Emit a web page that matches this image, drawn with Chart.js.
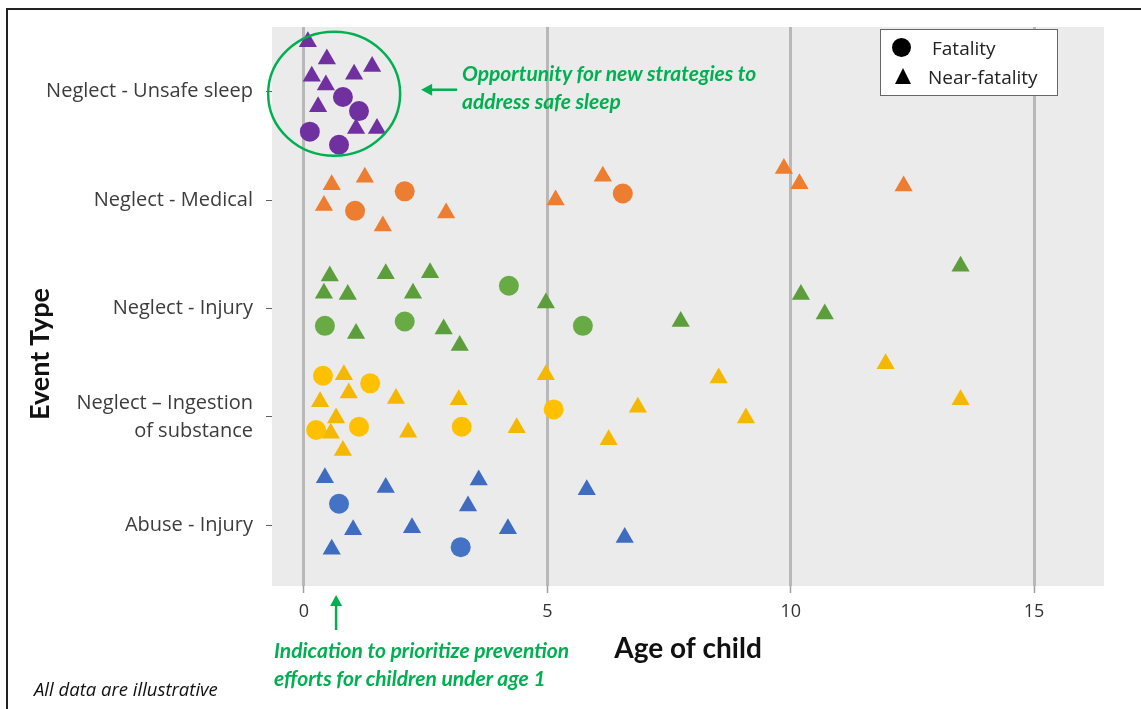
<!DOCTYPE html>
<html>
<head>
<meta charset="utf-8">
<script src="https://cdn.jsdelivr.net/npm/chart.js@4.4.1/dist/chart.umd.min.js"></script>
<style>
  body { margin: 0; background: #fff; }
  #wrap { position: relative; width: 1141px; height: 709px; overflow: hidden; }
  #frame { position: absolute; left: 6px; top: 8px; width: 1200px; height: 800px;
           border-left: 2px solid #222; border-top: 2px solid #222; pointer-events: none; }
  .note { position: absolute; font-family: Lato, sans-serif; font-weight: bold; font-style: italic;
          color: #00b050; font-size: 21px; line-height: 28px; white-space: nowrap; }
  #ytitle { position: absolute; left: 38px; top: 354px; transform: translate(-50%, -50%) rotate(-90deg);
            font-family: Lato, sans-serif; font-weight: bold; font-size: 27px; color: #111; white-space: nowrap; }
  #footnote { position: absolute; left: 34px; top: 676px; font-family: "Open Sans", sans-serif;
              font-style: italic; font-size: 18.5px; color: #111; white-space: nowrap; }
  #legend { position: absolute; left: 880px; top: 29px; width: 176px; height: 65px; background: #fff;
            border: 1px solid #666; font-family: "Open Sans", sans-serif; font-size: 19px; color: #222; }
  #legend .row { position: absolute; left: 0; height: 24px; line-height: 24px; white-space: nowrap; }
  #legend .dot { position: absolute; left: 11px; top: 2px; width: 19px; height: 19px; border-radius: 50%; background: #000; }
  #legend .tri { position: absolute; left: 14px; top: 3px; width: 0; height: 0;
                 border-left: 8px solid transparent; border-right: 8px solid transparent; border-bottom: 16px solid #000; }
</style>
</head>
<body>
<div id="wrap">
  <canvas id="ageChart" width="1141" height="709"></canvas>
  <div id="frame"></div>
  <div id="ytitle">Event Type</div>
  <div id="legend">
    <div class="row" style="top:6px"><span class="dot"></span><span style="position:absolute;left:51px">Fatality</span></div>
    <div class="row" style="top:35px"><span class="tri"></span><span style="position:absolute;left:47px">Near-fatality</span></div>
  </div>
  <div class="note" style="left:462px; top:59px">Opportunity for new strategies to<br>address safe sleep</div>
  <div class="note" style="left:274px; top:636px">Indication to prioritize prevention<br>efforts for children under age 1</div>
  <div id="footnote">All data are illustrative</div>
</div>
<script>
// y axis: 1 = Abuse - Injury ... 5 = Neglect - Unsafe sleep, points are jittered around their row
const eventTypes = ['Abuse - Injury', ['Neglect \u2013 Ingestion', 'of substance'], 'Neglect - Injury', 'Neglect - Medical', 'Neglect - Unsafe sleep'];
const ageTicks = [0, 5, 10, 15];

// [age, row position]
const sleepFatal = [[0.80, 4.95], [1.13, 4.82], [0.12, 4.63], [0.72, 4.51]];
const sleepNear = [[0.08, 5.46], [0.47, 5.30], [0.16, 5.14], [0.45, 5.06], [1.03, 5.16], [1.40, 5.23], [0.29, 4.86], [1.07, 4.66], [1.50, 4.66]];
const medicalFatal = [[2.07, 4.08], [1.05, 3.90], [6.55, 4.06]];
const medicalNear = [[0.57, 4.14], [1.25, 4.21], [0.41, 3.95], [1.62, 3.76], [2.92, 3.88], [5.17, 4.00], [6.14, 4.22], [9.86, 4.29], [10.18, 4.15], [12.32, 4.13]];
const injuryFatal = [[0.43, 2.84], [2.07, 2.88], [4.21, 3.21], [5.73, 2.84]];
const injuryNear = [[0.53, 3.30], [0.41, 3.14], [0.90, 3.13], [1.68, 3.32], [2.59, 3.33], [2.24, 3.14], [4.97, 3.05], [1.07, 2.77], [2.87, 2.81], [3.20, 2.66], [7.74, 2.88], [10.21, 3.13], [10.70, 2.95], [13.49, 3.39]];
const ingestFatal = [[0.39, 2.38], [1.36, 2.31], [0.25, 1.88], [1.13, 1.91], [3.24, 1.91], [5.13, 2.07]];
const ingestNear = [[0.82, 2.39], [0.92, 2.22], [0.33, 2.14], [0.66, 1.99], [0.55, 1.85], [0.80, 1.69], [1.89, 2.17], [3.18, 2.16], [2.14, 1.86], [4.37, 1.90], [4.97, 2.39], [6.86, 2.09], [6.26, 1.79], [8.52, 2.36], [9.08, 1.99], [11.95, 2.49], [13.49, 2.16]];
const abuseFatal = [[0.72, 1.20], [3.22, 0.80]];
const abuseNear = [[0.43, 1.44], [1.68, 1.35], [3.59, 1.42], [3.37, 1.18], [1.01, 0.96], [2.22, 0.98], [4.19, 0.97], [0.57, 0.78], [5.81, 1.33], [6.59, 0.89]];

// callout anchors (in data units)
const ringCenter = [0.62, 4.98];
const underOneAge = 0.66;

const green = '#00b050';

function toPoints(list) {
    return list.map(p => ({ x: p[0], y: p[1] }));
}

function fatal(label, list, color) {
    return { label: label, data: toPoints(list), pointStyle: 'circle', pointRadius: 10,
             backgroundColor: color, borderColor: color, borderWidth: 0 };
}

function near(label, list, color) {
    return { label: label, data: toPoints(list), pointStyle: 'triangle', pointRadius: 10.5,
             backgroundColor: color, borderColor: color, borderWidth: 0 };
}

const plotBackground = {
    id: 'plotBackground',
    beforeDraw(chart) {
        const { ctx, chartArea: a } = chart;
        ctx.save();
        ctx.fillStyle = '#ebebeb';
        ctx.fillRect(a.left, a.top, a.right - a.left, a.bottom - a.top);
        ctx.restore();
    }
};

function arrow(ctx, x1, y1, x2, y2) {
    const ang = Math.atan2(y2 - y1, x2 - x1);
    ctx.beginPath();
    ctx.moveTo(x1, y1);
    ctx.lineTo(x2 - Math.cos(ang) * 8, y2 - Math.sin(ang) * 8);
    ctx.stroke();
    ctx.beginPath();
    ctx.moveTo(x2, y2);
    ctx.lineTo(x2 - Math.cos(ang) * 11 + Math.sin(ang) * 6, y2 - Math.sin(ang) * 11 - Math.cos(ang) * 6);
    ctx.lineTo(x2 - Math.cos(ang) * 11 - Math.sin(ang) * 6, y2 - Math.sin(ang) * 11 + Math.cos(ang) * 6);
    ctx.closePath();
    ctx.fill();
}

const callouts = {
    id: 'callouts',
    afterDraw(chart) {
        const { ctx, scales: { x, y }, chartArea } = chart;
        ctx.save();
        ctx.strokeStyle = green;
        ctx.fillStyle = green;
        ctx.lineWidth = 2.5;
        const cx = x.getPixelForValue(ringCenter[0]);
        const cy = y.getPixelForValue(ringCenter[1]);
        ctx.beginPath();
        ctx.ellipse(cx, cy, 66, 62, 0, 0, Math.PI * 2);
        ctx.stroke();
        arrow(ctx, cx + 123, cy - 4, cx + 87, cy - 4);
        const ax = x.getPixelForValue(underOneAge);
        arrow(ctx, ax, chartArea.bottom + 44, ax, chartArea.bottom + 9);
        ctx.restore();
    }
};

new Chart(document.getElementById('ageChart'), {
    type: 'scatter',
    data: {
        datasets: [
            fatal('Unsafe sleep fatality', sleepFatal, '#7030a0'),
            near('Unsafe sleep near-fatality', sleepNear, '#7030a0'),
            fatal('Medical fatality', medicalFatal, '#ed7d31'),
            near('Medical near-fatality', medicalNear, '#ed7d31'),
            fatal('Injury fatality', injuryFatal, '#68ab45'),
            near('Injury near-fatality', injuryNear, '#5c9e3c'),
            fatal('Ingestion fatality', ingestFatal, '#ffc000'),
            near('Ingestion near-fatality', ingestNear, '#f5b800'),
            fatal('Abuse fatality', abuseFatal, '#4472c4'),
            near('Abuse near-fatality', abuseNear, '#3f6cc0')
        ]
    },
    options: {
        responsive: false,
        animation: false,
        events: [],
        layout: { padding: { left: 0, top: 23, right: 37, bottom: 0 } },
        plugins: {
            legend: { display: false },
            tooltip: { enabled: false }
        },
        scales: {
            x: {
                type: 'linear',
                min: -0.657,
                max: 16.437,
                afterBuildTicks: s => { s.ticks = ageTicks.map(v => ({ value: v })); },
                afterFit: s => { s.height = 123; },
                ticks: { font: { family: 'Open Sans', size: 18 }, color: '#333', padding: 8 },
                grid: { color: '#b8b8b8', lineWidth: 3, tickLength: 7, tickColor: '#a0a0a0', tickWidth: 1.5 },
                border: { display: false },
                title: {
                    display: true,
                    text: 'Age of child',
                    font: { family: 'Lato', size: 28, weight: 'bold' },
                    color: '#111',
                    padding: { bottom: 43 }
                }
            },
            y: {
                type: 'linear',
                min: 0.442,
                max: 5.595,
                afterBuildTicks: s => { s.ticks = [1, 2, 3, 4, 5].map(v => ({ value: v })); },
                afterFit: s => { s.width = 272; },
                ticks: {
                    callback: v => eventTypes[v - 1],
                    font: { family: 'Open Sans', size: 20, lineHeight: 1.4 },
                    color: '#3c3c3c',
                    padding: 13
                },
                grid: { drawOnChartArea: false, tickLength: 6, color: '#606060', lineWidth: 1 },
                border: { display: false }
            }
        }
    },
    plugins: [plotBackground, callouts]
});
</script>
</body>
</html>
